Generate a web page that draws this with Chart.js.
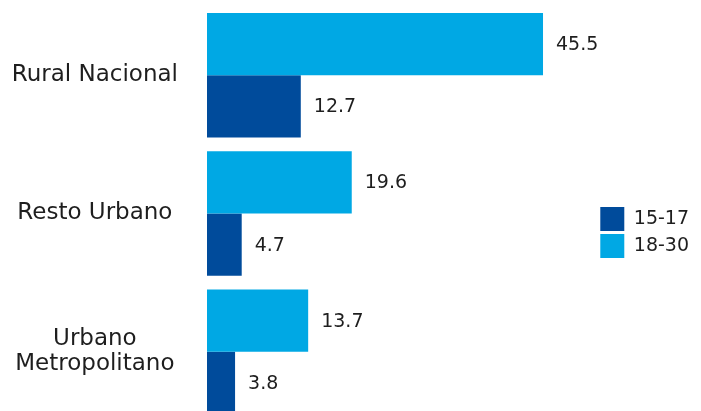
<!DOCTYPE html>
<html>
<head>
<meta charset="utf-8">
<script src="https://cdn.jsdelivr.net/npm/chart.js@4"></script>
<style>
html,body{margin:0;padding:0;background:#fff;overflow:hidden;}
#wrap{width:701px;height:426px;position:relative;}
</style>
</head>
<body>
<div id="wrap"><canvas id="c"></canvas></div>
<script>
const categories = ["Rural Nacional", "Resto Urbano", ["Urbano", "Metropolitano"]];
const seriesNames = ["18-30", "15-17"];
const values1830 = [45.5, 19.6, 13.7];
const values1517 = [12.7, 4.7, 3.8];
const colors = {"18-30": "#00A8E4", "15-17": "#004B9B"};

const FONT = "'DejaVu Sans', sans-serif";
const TEXT = "#1e1e1e";

const valueLabels = {
  id: 'valueLabels',
  afterDatasetsDraw(chart) {
    const ctx = chart.ctx;
    ctx.save();
    ctx.font = "19px " + FONT;
    ctx.fillStyle = TEXT;
    ctx.textAlign = 'left';
    ctx.textBaseline = 'middle';
    chart.data.datasets.forEach((ds, di) => {
      const meta = chart.getDatasetMeta(di);
      meta.data.forEach((el, i) => {
        ctx.fillText(ds.data[i].toFixed(1), el.x + 13, el.y + 1);
      });
    });
    ctx.restore();
  }
};

new Chart(document.getElementById('c'), {
  type: 'bar',
  data: {
    labels: categories,
    datasets: [
      {label: seriesNames[0], data: values1830, backgroundColor: colors["18-30"], borderWidth: 0},
      {label: seriesNames[1], data: values1517, backgroundColor: colors["15-17"], borderWidth: 0}
    ]
  },
  options: {
    indexAxis: 'y',
    responsive: true,
    maintainAspectRatio: false,
    animation: false,
    categoryPercentage: 0.9,
    barPercentage: 1.0,
    layout: {padding: {top: 6, bottom: 5, left: 0, right: 2}},
    scales: {
      x: {display: false, min: 0, max: 52.85},
      y: {
        grid: {display: false, drawTicks: false},
        border: {display: false},
        ticks: {
          font: {family: FONT, size: 23, lineHeight: 1.1},
          color: TEXT,
          crossAlign: 'center',
          padding: 29
        },
        afterFit(scale) {
          scale.width = 207;
          scale.paddingTop = 0;
          scale.paddingBottom = 0;
        }
      }
    },
    plugins: {
      legend: {
        position: 'right',
        reverse: true,
        title: {display: true, text: '', padding: {top: 26, bottom: 0}, font: {size: 10}},
        labels: {
          boxWidth: 24,
          boxHeight: 24,
          padding: 3,
          color: TEXT,
          font: {family: FONT, size: 19}
        }
      },
      tooltip: {enabled: false}
    }
  },
  plugins: [valueLabels]
});
</script>
</body>
</html>
